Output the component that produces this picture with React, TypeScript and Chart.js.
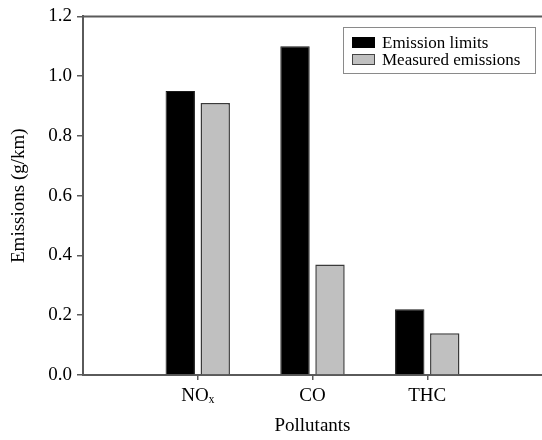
import React, { useEffect, useRef } from "react";
import { Chart, registerables } from "chart.js";

Chart.register(...registerables);

const categories = ["NOₓ", "CO", "THC"];
const emissionLimits = [0.95, 1.1, 0.22];
const measuredEmissions = [0.91, 0.37, 0.14];
const seriesNames = ["Emission limits", "Measured emissions"];
const yTicks = [0, 0.2, 0.4, 0.6, 0.8, 1.0, 1.2];

const FONT = "'Liberation Serif', 'Times New Roman', serif";
const AXIS = "#5a5a5a";

const topBorder = {
  id: "topBorder",
  afterDraw(chart: any) {
    const { ctx, chartArea } = chart;
    ctx.save();
    ctx.strokeStyle = AXIS;
    ctx.lineWidth = 2;
    ctx.beginPath();
    ctx.moveTo(chartArea.left, chartArea.top);
    ctx.lineTo(chart.width, chartArea.top);
    ctx.stroke();
    ctx.restore();
  },
};

export default function App() {
  const ref = useRef<HTMLCanvasElement>(null);
  useEffect(() => {
    if (!ref.current) return;
    const labels = ["", ...categories, ""];
    const pad = (a: number[]) => [null, ...a, null];
    const chart = new Chart(ref.current, {
      type: "bar",
      data: {
        labels,
        datasets: [
          {
            label: seriesNames[0],
            data: pad(emissionLimits),
            backgroundColor: "#000000",
            borderColor: "#1a1a1a",
            borderWidth: 1,
          },
          {
            label: seriesNames[1],
            data: pad(measuredEmissions),
            backgroundColor: "#c0c0c0",
            borderColor: "#3a3a3a",
            borderWidth: 1.5,
          },
        ],
      },
      options: {
        responsive: false,
        animation: false,
        devicePixelRatio: 1,
        layout: { padding: { top: 16, left: 0, right: -2, bottom: 0 } },
        datasets: {
          bar: { categoryPercentage: 0.61, barPercentage: 0.84 },
        } as any,
        plugins: {
          legend: { display: false },
          tooltip: { enabled: false },
        },
        scales: {
          x: {
            offset: false,
            grid: {
              offset: false,
              drawOnChartArea: false,
              drawTicks: true,
              tickLength: 5,
              lineWidth: (c: any) => (c.tick && c.tick.label ? 1.5 : 0),
              color: AXIS,
            },
            border: { display: true, color: AXIS, width: 2 },
            ticks: {
              color: "#000",
              font: { family: FONT, size: 19 },
              padding: 5,
              autoSkip: false,
              maxRotation: 0,
            },
            title: {
              display: true,
              text: "Pollutants",
              color: "#000",
              font: { family: FONT, size: 19 },
              padding: { top: 4, bottom: 3 },
            },
            afterFit: (s: any) => {
              s.height = 65;
              s.paddingLeft = 0;
              s.paddingRight = 0;
            },
          },
          y: {
            min: 0,
            max: 1.2,
            afterBuildTicks: (s: any) => {
              s.ticks = yTicks.map((v) => ({ value: v }));
            },
            grid: {
              drawOnChartArea: false,
              drawTicks: true,
              tickLength: 6,
              color: AXIS,
              lineWidth: 1.5,
            },
            border: { display: true, color: AXIS, width: 2 },
            ticks: {
              color: "#000",
              font: { family: FONT, size: 19 },
              padding: 5,
              callback: (v: any) => Number(v).toFixed(1),
            },
            title: {
              display: true,
              text: "Emissions (g/km)",
              color: "#000",
              font: { family: FONT, size: 19 },
              padding: { top: 8, bottom: 0 },
            },
            afterFit: (s: any) => {
              s.width = 83;
            },
          },
        },
      },
      plugins: [topBorder],
    });
    return () => chart.destroy();
  }, []);

  const swatch = (bg: string, border: string) => ({
    display: "inline-block",
    width: 23,
    height: 11,
    background: bg,
    border: `1px solid ${border}`,
    marginRight: 7,
    boxSizing: "border-box" as const,
  });

  return (
    <div style={{ position: "fixed", left: 0, top: 0, width: 542, height: 440, background: "#fff", overflow: "hidden" }}>
      <canvas ref={ref} width={542} height={440} style={{ display: "block" }} />
      <div
        style={{
          position: "absolute",
          left: 343,
          top: 27,
          width: 193,
          height: 47,
          border: "1px solid #8a8a8a",
          boxSizing: "border-box",
          fontFamily: FONT,
          fontSize: 17,
          lineHeight: "17px",
          padding: "6px 0 0 8px",
          color: "#000",
        }}
      >
        <div style={{ display: "flex", alignItems: "center" }}>
          <span style={swatch("#000", "#000")} />
          {seriesNames[0]}
        </div>
        <div style={{ display: "flex", alignItems: "center" }}>
          <span style={swatch("#c0c0c0", "#444")} />
          {seriesNames[1]}
        </div>
      </div>
    </div>
  );
}
